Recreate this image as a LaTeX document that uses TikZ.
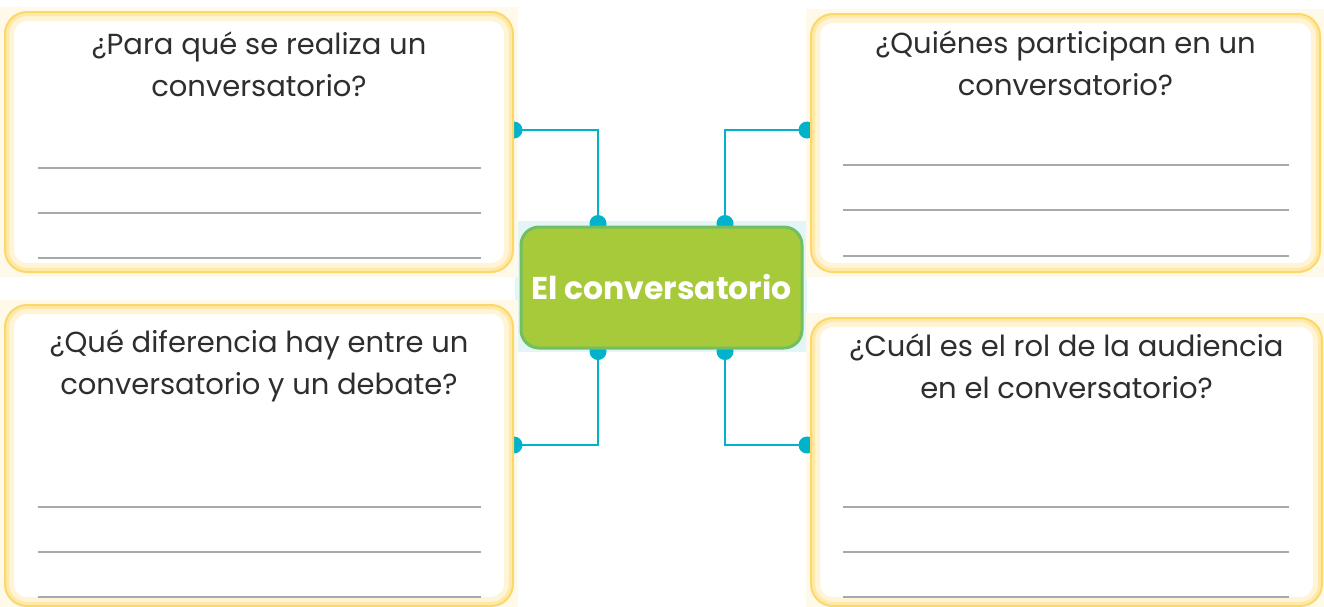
\documentclass[tikz,border=0pt]{standalone}
\usepackage{fontspec}
\setmainfont{Poppins}
\usetikzlibrary{positioning,backgrounds}

\definecolor{boxedge}{HTML}{FCD76A}
\definecolor{boxglow}{HTML}{FFF4D6}
\definecolor{boxglowb}{HTML}{FEE9A8}
\definecolor{boxshade}{HTML}{FFF9EA}
\definecolor{linkcyan}{HTML}{00B3CB}
\definecolor{themegreen}{HTML}{A6CA3A}
\definecolor{themeedge}{HTML}{72BE63}
\definecolor{themeback}{HTML}{E4F5F8}
\definecolor{ruleline}{HTML}{A8A9AD}
\definecolor{qtextc}{HTML}{2E2E2E}

\tikzset{
  qbox/.style={draw=boxedge, line width=2pt, fill=white, rounded corners=22pt,
    path picture={
      \draw[boxglow, line width=18pt, rounded corners=22pt]
        (path picture bounding box.south west) rectangle (path picture bounding box.north east);
      \draw[boxglowb, line width=8pt, rounded corners=22pt]
        (path picture bounding box.south west) rectangle (path picture bounding box.north east);}},
  qtext/.style={text=qtextc, align=center, inner sep=0pt, font=\fontsize{29}{42}\selectfont},
  theme/.style={draw=themeedge, line width=3pt, fill=themegreen, rounded corners=18pt,
    text=white, font=\bfseries\fontsize{31.5}{36}\selectfont},
  link/.style={linkcyan, line width=2.2pt},
  ruleln/.style={ruleline, line width=2.5pt}
}

\begin{document}
\begin{tikzpicture}[x=1pt,y=-1pt]
\useasboundingbox (0,0) rectangle (1324,606);

% question boxes
\node[qbox, minimum width=508pt, minimum height=260pt] (qa) at (259,142) {};
\node[qbox, minimum width=509pt, minimum height=258pt] (qb) at (1065.5,143) {};
\node[qbox, minimum width=508pt, minimum height=301pt] (qc) at (259,455.5) {};
\node[qbox, minimum width=511pt, minimum height=288pt] (qd) at (1066.5,462) {};

\node[qtext, below=21pt of qa.north] (qa-text) {¿Para qué se realiza un\\conversatorio?};
\node[qtext, below=18pt of qb.north] (qb-text) {¿Quiénes participan en un\\conversatorio?};
\node[qtext, below=26pt of qc.north] (qc-text) {¿Qué diferencia hay entre un\\conversatorio y un debate?};
\node[qtext, below=17pt of qd.north] (qd-text) {¿Cuál es el rol de la audiencia\\en el conversatorio?};

% writing lines
\foreach \y in {168,213,258} \draw[ruleln] (38,\y) -- (481,\y);
\foreach \y in {507,552,597} \draw[ruleln] (38,\y) -- (481,\y);
\foreach \y in {165,210,256} \draw[ruleln] (843,\y) -- (1289,\y);
\foreach \y in {507,552,597} \draw[ruleln] (843,\y) -- (1289,\y);

% centre
\node[theme, minimum width=281pt, minimum height=121pt] (tema) at (661.5,287.5) {El conversatorio};

\begin{scope}[on background layer]
  \fill[themeback] ([shift={(-5pt,-2pt)}]tema.south west) rectangle ([shift={(3pt,5pt)}]tema.north east);
  \foreach \n in {qa,qb,qc,qd}
    \fill[boxshade] ([shift={(-4pt,-4pt)}]\n.south west) rectangle ([shift={(4pt,4pt)}]\n.north east);

  \coordinate (pa) at ([yshift=12pt]qa.east);
  \coordinate (pb) at ([xshift=-3pt,yshift=13pt]qb.west);
  \coordinate (pc) at ([yshift=10.5pt]qc.east);
  \coordinate (pd) at ([xshift=-3pt,yshift=17pt]qd.west);
  \coordinate (ta) at ([xshift=-63.5pt,yshift=2pt]tema.north);
  \coordinate (tb) at ([xshift=63.5pt,yshift=2pt]tema.north);
  \coordinate (tc) at ([xshift=-63.5pt,yshift=-2pt]tema.south);
  \coordinate (td) at ([xshift=63.5pt,yshift=-2pt]tema.south);

  \draw[link] (pa) -| (ta);
  \draw[link] (pb) -| (tb);
  \draw[link] (pc) -| (tc);
  \draw[link] (pd) -| (td);
  \foreach \p in {pa,pb,pc,pd,ta,tb,tc,td}
    \fill[linkcyan] (\p) circle (8.5pt);
\end{scope}
\end{tikzpicture}
\end{document}
